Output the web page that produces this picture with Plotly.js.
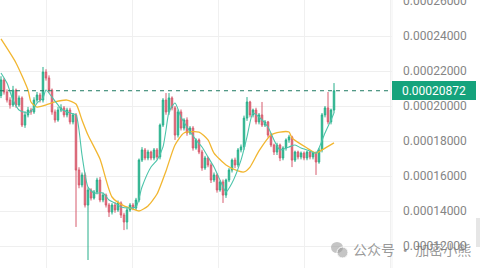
<!DOCTYPE html>
<html><head><meta charset="utf-8">
<script src="https://cdn.plot.ly/plotly-3.0.1.min.js"></script>
<style>html,body{margin:0;padding:0;background:#fff}#c{width:480px;height:268px}</style>
</head><body><div id="c"></div>
<script>
// candle index (time order)
const open = [20.6e-5,21.49e-5,20.8e-5,20.34e-5,20.06e-5,20.91e-5,20.06e-5,20.46e-5,18.91e-5,19.49e-5,19.77e-5,19.66e-5,20.34e-5,20.63e-5,20.34e-5,21.94e-5,21.6e-5,20.91e-5,19.66e-5,19.2e-5,19.77e-5,19.89e-5,19.49e-5,19.77e-5,19.09e-5,19.49e-5,16.34e-5,15.49e-5,16.06e-5,14.34e-5,15.2e-5,14.74e-5,15.09e-5,15.77e-5,14.63e-5,14.91e-5,14.34e-5,13.94e-5,14.34e-5,14.06e-5,14.46e-5,13.77e-5,13.37e-5,14.06e-5,14.34e-5,14.17e-5,14.63e-5,16.91e-5,17.49e-5,17.03e-5,17.37e-5,17.03e-5,17.49e-5,17.09e-5,18.91e-5,20.34e-5,19.66e-5,20.46e-5,19.89e-5,18.34e-5,19.66e-5,18.74e-5,19.2e-5,18.46e-5,18.74e-5,17.6e-5,18.06e-5,17.37e-5,16.46e-5,17.03e-5,16.63e-5,15.77e-5,16.06e-5,15.2e-5,15.66e-5,14.91e-5,15.77e-5,16.34e-5,16.91e-5,16.63e-5,17.49e-5,17.66e-5,19.31e-5,20.23e-5,19.49e-5,19.77e-5,19.09e-5,19.49e-5,18.91e-5,19.09e-5,18.34e-5,17.77e-5,17.37e-5,17.77e-5,17.03e-5,17.6e-5,18.06e-5,18.23e-5,16.91e-5,17.37e-5,17.09e-5,17.31e-5,17.03e-5,17.37e-5,17.09e-5,17.31e-5,16.8e-5,17.49e-5,19.49e-5,19.89e-5,19.09e-5,19.77e-5];
const high = [21.7e-5,21.6e-5,20.95e-5,20.5e-5,21.15e-5,21.0e-5,20.6e-5,20.55e-5,19.7e-5,19.95e-5,19.9e-5,20.5e-5,20.8e-5,20.75e-5,22.23e-5,22.1e-5,21.75e-5,21.0e-5,19.8e-5,19.95e-5,20.1e-5,20.0e-5,19.9e-5,19.9e-5,19.6e-5,19.6e-5,16.5e-5,16.2e-5,16.2e-5,15.35e-5,15.3e-5,15.2e-5,15.9e-5,15.94e-5,15.05e-5,15.0e-5,14.45e-5,14.45e-5,14.5e-5,14.6e-5,14.55e-5,13.9e-5,14.2e-5,14.45e-5,14.45e-5,14.75e-5,17.0e-5,17.65e-5,17.6e-5,17.5e-5,17.45e-5,17.6e-5,17.6e-5,19.0e-5,20.45e-5,20.74e-5,20.74e-5,20.55e-5,20.0e-5,19.8e-5,19.8e-5,19.3e-5,19.35e-5,18.85e-5,18.85e-5,18.15e-5,18.15e-5,17.5e-5,17.15e-5,17.1e-5,16.75e-5,16.2e-5,16.15e-5,15.75e-5,15.8e-5,15.85e-5,16.45e-5,17.0e-5,17.05e-5,17.6e-5,17.8e-5,19.45e-5,20.51e-5,20.3e-5,19.85e-5,19.9e-5,19.6e-5,20.23e-5,19.2e-5,19.15e-5,18.45e-5,17.85e-5,17.9e-5,17.85e-5,17.7e-5,18.15e-5,18.35e-5,18.3e-5,17.45e-5,17.45e-5,17.4e-5,17.4e-5,17.45e-5,17.45e-5,17.4e-5,17.4e-5,17.6e-5,19.6e-5,20.0e-5,20.8e-5,19.85e-5,21.31e-5];
const low = [20.45e-5,20.65e-5,20.2e-5,19.85e-5,19.95e-5,19.9e-5,19.95e-5,18.8e-5,18.75e-5,19.35e-5,19.5e-5,19.55e-5,20.2e-5,20.2e-5,20.2e-5,21.45e-5,20.75e-5,19.5e-5,19.05e-5,19.1e-5,19.65e-5,19.35e-5,19.35e-5,18.95e-5,18.95e-5,13.09e-5,15.3e-5,15.35e-5,14.2e-5,11.2e-5,14.6e-5,14.65e-5,14.95e-5,14.5e-5,14.5e-5,14.2e-5,13.66e-5,13.8e-5,13.9e-5,13.95e-5,13.6e-5,12.91e-5,12.95e-5,13.95e-5,14.05e-5,14.05e-5,14.5e-5,16.8e-5,16.9e-5,16.9e-5,16.9e-5,16.9e-5,16.95e-5,16.95e-5,18.8e-5,19.5e-5,19.5e-5,19.75e-5,18.06e-5,18.2e-5,18.6e-5,18.6e-5,18.3e-5,18.35e-5,17.45e-5,17.5e-5,17.25e-5,16.3e-5,16.35e-5,16.5e-5,15.6e-5,15.65e-5,15.05e-5,15.1e-5,14.46e-5,14.75e-5,15.65e-5,16.2e-5,16.45e-5,16.5e-5,17.35e-5,17.5e-5,19.15e-5,19.35e-5,19.35e-5,18.95e-5,18.95e-5,18.8e-5,18.8e-5,18.2e-5,17.65e-5,17.2e-5,17.2e-5,16.85e-5,16.9e-5,17.45e-5,17.9e-5,16.51e-5,16.8e-5,16.95e-5,16.95e-5,16.9e-5,16.9e-5,16.95e-5,16.95e-5,16.06e-5,16.7e-5,17.35e-5,19.35e-5,18.95e-5,18.95e-5,19.6e-5];
const close = [21.49e-5,20.8e-5,20.34e-5,20.06e-5,20.91e-5,20.06e-5,20.46e-5,18.91e-5,19.49e-5,19.77e-5,19.66e-5,20.34e-5,20.63e-5,20.34e-5,21.94e-5,21.6e-5,20.91e-5,19.66e-5,19.2e-5,19.77e-5,19.89e-5,19.49e-5,19.77e-5,19.09e-5,19.49e-5,16.34e-5,15.49e-5,16.06e-5,14.34e-5,15.2e-5,14.74e-5,15.09e-5,15.77e-5,14.63e-5,14.91e-5,14.34e-5,13.94e-5,14.34e-5,14.06e-5,14.46e-5,13.77e-5,13.37e-5,14.06e-5,14.34e-5,14.17e-5,14.63e-5,16.91e-5,17.49e-5,17.03e-5,17.37e-5,17.03e-5,17.49e-5,17.09e-5,18.91e-5,20.34e-5,19.66e-5,20.46e-5,19.89e-5,18.34e-5,19.66e-5,18.74e-5,19.2e-5,18.46e-5,18.74e-5,17.6e-5,18.06e-5,17.37e-5,16.46e-5,17.03e-5,16.63e-5,15.77e-5,16.06e-5,15.2e-5,15.66e-5,14.91e-5,15.77e-5,16.34e-5,16.91e-5,16.63e-5,17.49e-5,17.66e-5,19.31e-5,20.23e-5,19.49e-5,19.77e-5,19.09e-5,19.49e-5,18.91e-5,19.09e-5,18.34e-5,17.77e-5,17.37e-5,17.77e-5,17.03e-5,17.6e-5,18.06e-5,18.23e-5,16.91e-5,17.37e-5,17.09e-5,17.31e-5,17.03e-5,17.37e-5,17.09e-5,17.31e-5,16.8e-5,17.49e-5,19.49e-5,19.89e-5,19.09e-5,19.77e-5,20.872e-5];

// slow moving average (orange), sampled at candle indices
const maSlowIdx = [0,5,9,10,12,15,18,22,25,27,29,33,37,41,44,46,49,52,55,58,61,66,69,71,75,79,81,83,86,90,93,96,97,102,105,107,111];
const maSlowVal = [23.83e-5,22.46e-5,20.91e-5,20.23e-5,19.94e-5,20.06e-5,20.23e-5,20.34e-5,20.11e-5,19.2e-5,18.34e-5,16.97e-5,14.8e-5,14.29e-5,14.11e-5,14.0e-5,14.29e-5,14.97e-5,16.29e-5,17.77e-5,18.46e-5,18.51e-5,18.06e-5,17.31e-5,16.63e-5,16.29e-5,16.23e-5,16.51e-5,17.43e-5,18.34e-5,18.51e-5,18.51e-5,18.17e-5,17.6e-5,17.31e-5,17.49e-5,17.89e-5];
// fast moving average (teal)
const maFastIdx = [0,2,4,6,9,11,12,14,15,17,19,20,23,25,26,27,29,31,34,36,38,40,43,45,47,50,52,54,55,56,58,60,62,65,67,69,71,73,75,77,80,82,84,86,89,91,93,96,98,100,102,105,106,108,110,111];
const maFastVal = [21.89e-5,21.31e-5,20.34e-5,19.77e-5,19.6e-5,19.89e-5,20.17e-5,20.46e-5,20.91e-5,20.51e-5,20.06e-5,19.83e-5,19.6e-5,19.49e-5,18.63e-5,17.2e-5,15.37e-5,15.03e-5,15.03e-5,14.63e-5,14.46e-5,14.23e-5,14.17e-5,14.23e-5,15.37e-5,16.51e-5,16.91e-5,17.66e-5,18.63e-5,19.66e-5,20.17e-5,19.37e-5,18.8e-5,18.06e-5,17.66e-5,17.09e-5,16.51e-5,15.77e-5,15.09e-5,15.6e-5,16.91e-5,18.23e-5,19.6e-5,19.37e-5,18.8e-5,18.06e-5,17.49e-5,17.66e-5,17.77e-5,17.6e-5,17.49e-5,17.31e-5,17.6e-5,18.46e-5,19.2e-5,19.6e-5];

const lastPrice = 20.872e-5;
const yTicks = [12e-5,14e-5,16e-5,18e-5,20e-5,22e-5,24e-5,26e-5];
const watermark = '公众号 · 加密小熊';

const idx = close.map((_, i) => i);

const traces = [
  {type:'candlestick', x: idx, open, high, low, close,
   increasing:{line:{color:'#26ae8a', width:1}, fillcolor:'#45c9a0'},
   decreasing:{line:{color:'#d65a6c', width:1}, fillcolor:'#e8808c'},
   whiskerwidth:0, hoverinfo:'skip', showlegend:false},
  {type:'scatter', mode:'lines', x: maSlowIdx, y: maSlowVal,
   line:{color:'#f2b630', width:1.3, shape:'spline', smoothing:0.6}, hoverinfo:'skip', showlegend:false},
  {type:'scatter', mode:'lines', x: maFastIdx, y: maFastVal,
   line:{color:'#4cc4aa', width:1.1, shape:'spline', smoothing:0.6}, hoverinfo:'skip', showlegend:false}
];

const layout = {
  width:480, height:268,
  margin:{l:0, r:88, t:0, b:0},
  paper_bgcolor:'#ffffff', plot_bgcolor:'#ffffff',
  showlegend:false,
  xaxis:{range:[-0.333,130.333], rangeslider:{visible:false}, showticklabels:false,
         tick0:15.23, dtick:28.67, tickmode:'linear', ticks:'', showgrid:true, gridcolor:'#f0f0f0', gridwidth:1,
         zeroline:false, showline:false, fixedrange:true},
  yaxis:{side:'right', range:[10.743e-5, 26.057e-5], tickvals:yTicks, tickformat:'.8f',
         ticks:'', ticklabelstandoff:10, ticklabeloverflow:'allow', showgrid:true, gridcolor:'#efefef', gridwidth:1,
         zeroline:false, showline:false, tickfont:{family:'Roboto', size:12, color:'#858585'}},
  shapes:[
    {type:'line', xref:'paper', x0:0, x1:1, yref:'y', y0:lastPrice, y1:lastPrice,
     line:{color:'#1f7a62', width:1, dash:'4px,4px'}},
    {type:'line', xref:'paper', x0:1, x1:1, yref:'paper', y0:0, y1:1, line:{color:'#f2f2f2', width:1}},
    {type:'circle', xref:'paper', yref:'paper', x0:331/392, x1:343/392, y0:(268-253)/268, y1:(268-242)/268,
     fillcolor:'rgba(150,150,150,0.55)', line:{width:0}},
    {type:'circle', xref:'paper', yref:'paper', x0:337/392, x1:348/392, y0:(268-258)/268, y1:(268-247)/268,
     fillcolor:'rgba(150,150,150,0.55)', line:{color:'#ffffff', width:1}},
    {type:'rect', xref:'paper', yref:'paper', x0:476/392, x1:480/392, y0:(268-247)/268, y1:(268-218)/268,
     fillcolor:'#e6e6e6', line:{width:0}}
  ],
  annotations:[
    {xref:'paper', x:1, xanchor:'left', yref:'y', y:lastPrice, yanchor:'middle',
     text: lastPrice.toFixed(8), showarrow:false, bgcolor:'#15a37c', borderpad:0, borderwidth:0,
     width:84, height:19, align:'center', font:{family:'Roboto', size:12, color:'#ffffff'}},
    {xref:'paper', x:351/392, xanchor:'left', yref:'paper', y:(268-249)/268, yanchor:'middle',
     text: watermark, showarrow:false, font:{family:'Noto Sans CJK SC', size:14, color:'rgba(120,120,120,0.75)'}}
  ]
};

Plotly.newPlot('c', traces, layout, {staticPlot:true, displayModeBar:false});
</script>
</body></html>
